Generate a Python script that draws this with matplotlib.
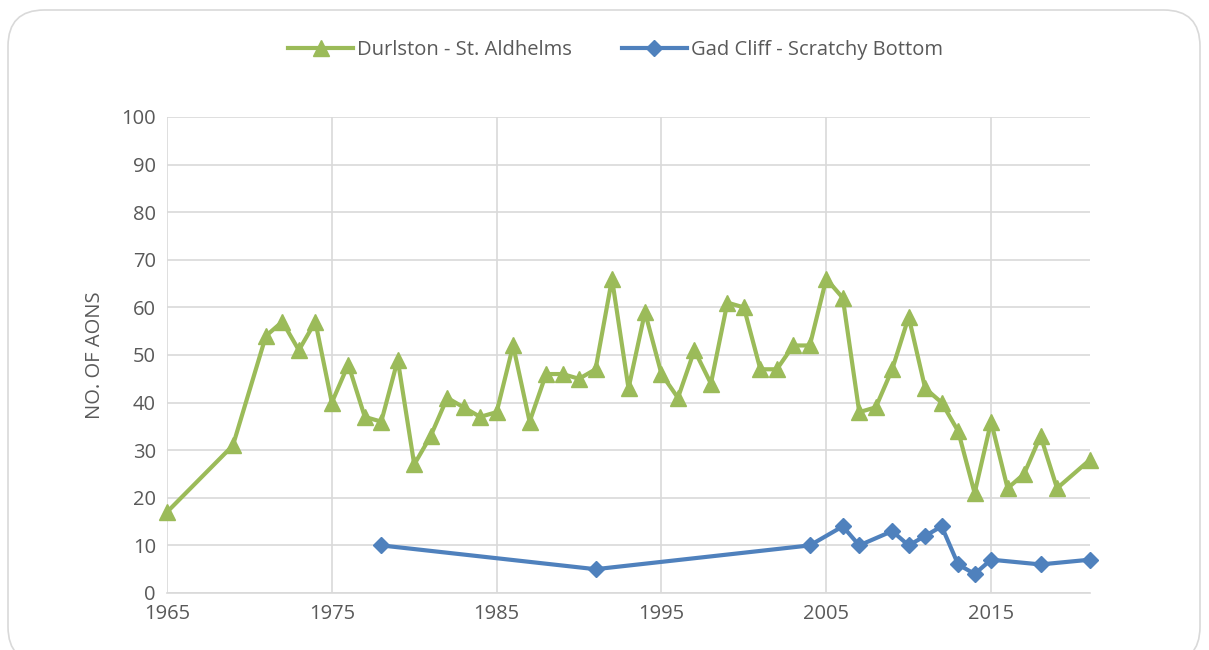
import matplotlib
matplotlib.use("Agg")
import matplotlib.pyplot as plt
from matplotlib.patches import FancyBboxPatch

# ── Dados ──────────────────────────────────────────────────────────────────────
durlston_anos = [1965, 1969, 1971, 1972, 1973, 1974, 1975, 1976, 1977, 1978,
                 1979, 1980, 1981, 1982, 1983, 1984, 1985, 1986, 1987, 1988,
                 1989, 1990, 1991, 1992, 1993, 1994, 1995, 1996, 1997, 1998,
                 1999, 2000, 2001, 2002, 2003, 2004, 2005, 2006, 2007, 2008,
                 2009, 2010, 2011, 2012, 2013, 2014, 2015, 2016, 2017, 2018,
                 2019, 2021]
durlston_aons = [17, 31, 54, 57, 51, 57, 40, 48, 37, 36,
                 49, 27, 33, 41, 39, 37, 38, 52, 36, 46,
                 46, 45, 47, 66, 43, 59, 46, 41, 51, 44,
                 61, 60, 47, 47, 52, 52, 66, 62, 38, 39,
                 47, 58, 43, 40, 34, 21, 36, 22, 25, 33,
                 22, 28]

gad_anos = [1978, 1991, 2004, 2006, 2007, 2009, 2010, 2011, 2012, 2013,
            2014, 2015, 2018, 2021]
gad_aons = [10, 5, 10, 14, 10, 13, 10, 12, 14, 6, 4, 7, 6, 7]

x_ticks = [1965, 1975, 1985, 1995, 2005, 2015]
y_ticks = list(range(0, 101, 10))

VERDE = "#9bbb59"
AZUL = "#4f81bd"
CINZA = "#595959"
GRADE = "#d9d9d9"
FONTE = 14.5

plt.rcParams["font.family"] = ["Open Sans", "DejaVu Sans"]

fig = plt.figure(figsize=(12.09, 6.5), dpi=100)
ax = fig.add_axes([167 / 1209, 1 - 593 / 650, (1090 - 167) / 1209, (593 - 117) / 650])

# moldura arredondada do gráfico
moldura = FancyBboxPatch((8 / 1209, -0.02), 1192 / 1209, 1 - 10 / 650 + 0.02,
                         boxstyle="round,pad=0,rounding_size=0.03",
                         transform=fig.transFigure, facecolor="none",
                         edgecolor="#d9d9d9", linewidth=1.2, mutation_aspect=1209 / 650)
fig.patches.append(moldura)

ax.plot(durlston_anos, durlston_aons, color=VERDE, linewidth=3.0,
        marker="^", markersize=12, label="Durlston - St. Aldhelms",
        zorder=3, clip_on=False)
ax.plot(gad_anos, gad_aons, color=AZUL, linewidth=3.0,
        marker="D", markersize=8.5, label="Gad Cliff - Scratchy Bottom",
        zorder=3, clip_on=False)

ax.set_xlim(1965, 2021)
ax.set_ylim(0, 100)
ax.set_xticks(x_ticks)
ax.set_yticks(y_ticks)
ax.grid(True, color=GRADE, linewidth=1.2)
ax.set_axisbelow(True)
for lado in ["top", "right", "left"]:
    ax.spines[lado].set_visible(False)
ax.spines["bottom"].set_color(GRADE)
ax.spines["bottom"].set_linewidth(1.2)
ax.tick_params(length=0, labelsize=FONTE, colors=CINZA, pad=8)
ax.set_ylabel("NO. OF AONS", fontsize=FONTE, color=CINZA, labelpad=12)

ax.legend(loc="upper center", bbox_to_anchor=(0.486, 1.2), ncol=2, frameon=False,
          fontsize=FONTE, labelcolor=CINZA, handlelength=3.2, columnspacing=2.5,
          handletextpad=0.2)

fig.savefig("out.png", dpi=100)
